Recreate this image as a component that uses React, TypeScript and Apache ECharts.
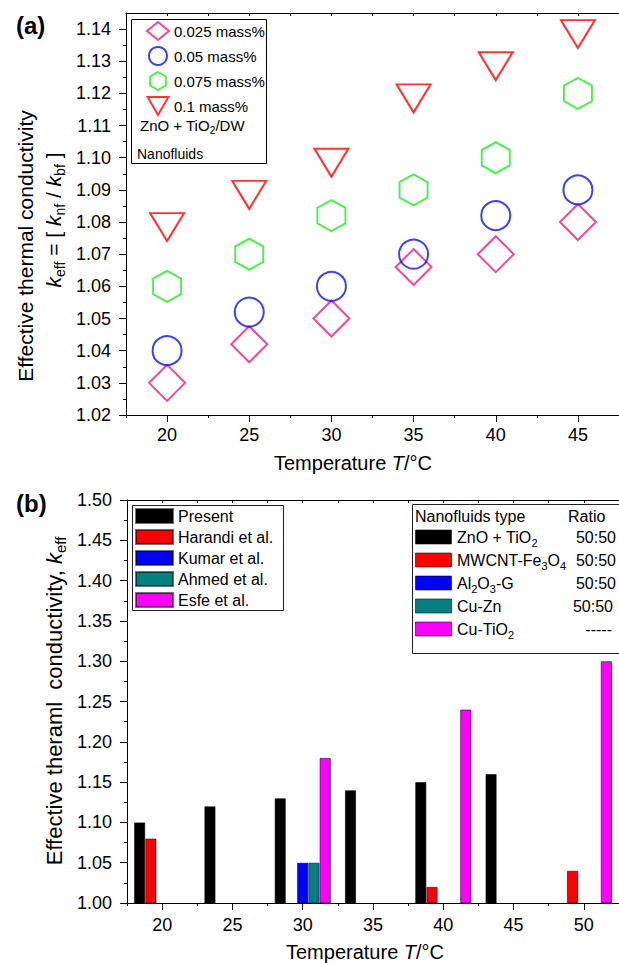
import React, { useEffect, useRef } from 'react';
import * as echarts from 'echarts';

// ---------- Data: panel (a) ----------
const tempsA = ['20', '25', '30', '35', '40', '45'];
const namesA = ['0.025 mass%', '0.05 mass%', '0.075 mass%', '0.1 mass%'];
const mass025 = [1.03, 1.042, 1.05, 1.066, 1.07, 1.08];
const mass050 = [1.04, 1.052, 1.06, 1.07, 1.082, 1.09];
const mass075 = [1.06, 1.07, 1.082, 1.09, 1.1, 1.12];
const mass100 = [1.08, 1.09, 1.1, 1.12, 1.13, 1.14];
const yTicksA = [1.02, 1.03, 1.04, 1.05, 1.06, 1.07, 1.08, 1.09, 1.1, 1.11, 1.12, 1.13, 1.14];
const yMinorA = [1.025, 1.035, 1.045, 1.055, 1.065, 1.075, 1.085, 1.095, 1.105, 1.115, 1.125, 1.135];

// ---------- Data: panel (b) ----------
const tempsB = ['20', '25', '30', '35', '40', '45', '50'];
const namesB = ['Present', 'Harandi et al.', 'Kumar et al.', 'Ahmed et al.', 'Esfe et al.'];
const present = [1.1, 1.12, 1.13, 1.14, 1.15, 1.16, null];
const harandi = [1.08, null, null, null, 1.02, null, 1.04];
const kumar = [null, null, 1.05, null, null, null, null];
const ahmed = [null, null, 1.05, null, null, null, null];
const esfe = [null, null, 1.18, null, 1.24, null, 1.3];
const typeLabels = ['{a|ZnO + TiO}{s|2}', '{a|MWCNT-Fe}{s|3}{a|O}{s|4}', '{a|Al}{s|2}{a|O}{s|3}{a|-G}', '{a|Cu-Zn}', '{a|Cu-TiO}{s|2}'];
const ratios = ['50:50', '50:50', '50:50', '50:50', '-----'];

const FONT = '"Liberation Sans", Arial, sans-serif';
const colorsA = ['#F0187F', '#1010F0', '#20E820', '#FF0000'];
const colorsB = ['#000000', '#FF0000', '#0000FF', '#008080', '#FF00FF'];

const HEX = 'path://M8.66,0 L17.32,5 L17.32,15 L8.66,20 L0,15 L0,5 Z';
const TRI = 'path://M0,0 L20,0 L10,17.32 Z';

function txt(x: number, y: number, text: string, size: number, opts: any = {}) {
  const align = opts.align || 'left';
  return {
    type: 'text',
    x,
    y,
    rotation: opts.rotation || 0,
    z: 100,
    style: {
      text,
      fill: '#000',
      font: `${opts.weight || 'normal'} ${size}px ${FONT}`,
      fontSize: size,
      fontFamily: FONT,
      fontWeight: opts.weight || 'normal',
      align,
      verticalAlign: 'middle',
      textAlign: align,
      textVerticalAlign: 'middle',
      rich: {
        a: { fontSize: size, fontFamily: FONT, fill: '#000', lineHeight: size + 6 },
        i: { fontSize: size, fontFamily: FONT, fontStyle: 'italic', fill: '#000', lineHeight: size + 6 },
        s: { fontSize: Math.round(size * 0.68), fontFamily: FONT, fill: '#000', verticalAlign: 'bottom', lineHeight: Math.round(size * 0.7) },
      },
    },
  };
}

function rectBox(x: number, y: number, w: number, h: number, fill = 'none', stroke = '#000') {
  return {
    type: 'rect',
    z: 50,
    shape: { x, y, width: w, height: h },
    style: { fill, stroke, lineWidth: 1 },
  };
}

function buildOption(): any {
  const axisLine = { show: true, lineStyle: { color: '#000', width: 1 } };
  const label = { color: '#000', fontSize: 18, fontFamily: FONT };

  const xAxis: any[] = [
    // panel (a)
    {
      type: 'category', gridIndex: 0, position: 'bottom', data: tempsA, boundaryGap: true,
      axisLine, axisTick: { show: true, alignWithLabel: true, length: 7, lineStyle: { color: '#000' } },
      axisLabel: { ...label, margin: 11 }, splitLine: { show: false },
    },
    {
      type: 'value', gridIndex: 0, position: 'bottom', min: 17.5, max: 47.5, interval: 5,
      axisLine: { show: false }, axisTick: { show: true, length: 3, lineStyle: { color: '#000' } },
      axisLabel: { show: false }, splitLine: { show: false },
    },
    {
      type: 'value', gridIndex: 0, position: 'top', min: 17.5, max: 47.5, interval: 2.5,
      axisLine, axisTick: { show: true, inside: true, length: 3, lineStyle: { color: '#000' } },
      axisLabel: { show: false }, splitLine: { show: false },
    },
    // panel (b)
    {
      type: 'category', gridIndex: 1, position: 'bottom', data: tempsB, boundaryGap: true,
      axisLine, axisTick: { show: true, alignWithLabel: true, length: 7, lineStyle: { color: '#000' } },
      axisLabel: { ...label, margin: 13 }, splitLine: { show: false },
    },
    {
      type: 'value', gridIndex: 1, position: 'bottom', min: 17.5, max: 52.5, interval: 5,
      axisLine: { show: false }, axisTick: { show: true, length: 3, lineStyle: { color: '#000' } },
      axisLabel: { show: false }, splitLine: { show: false },
    },
    {
      type: 'value', gridIndex: 1, position: 'top', min: 17.5, max: 52.5, interval: 2.5,
      axisLine, axisTick: { show: true, inside: true, length: 3, lineStyle: { color: '#000' } },
      axisLabel: { show: false }, splitLine: { show: false },
    },
  ];

  const yAxis: any[] = [
    {
      type: 'value', gridIndex: 0, position: 'left', min: 1.02, max: 1.145,
      axisLine, axisTick: { show: true, length: 7, customValues: yTicksA, lineStyle: { color: '#000' } },
      axisLabel: { ...label, margin: 15, customValues: yTicksA, formatter: (v: number) => v.toFixed(2) },
      splitLine: { show: false },
    },
    {
      type: 'value', gridIndex: 0, position: 'left', min: 1.02, max: 1.145,
      axisLine: { show: false }, axisTick: { show: true, length: 3, customValues: yMinorA, lineStyle: { color: '#000' } },
      axisLabel: { show: false, customValues: yMinorA }, splitLine: { show: false },
    },
    {
      type: 'value', gridIndex: 1, position: 'left', min: 1.0, max: 1.5, interval: 0.05,
      axisLine, axisTick: { show: true, length: 7, lineStyle: { color: '#000' } },
      minorTick: { show: true, splitNumber: 2, length: 3, lineStyle: { color: '#000' } },
      axisLabel: { ...label, margin: 15, formatter: (v: number) => v.toFixed(2) },
      splitLine: { show: false }, minorSplitLine: { show: false },
    },
  ];

  const scatterDefs = [
    { name: namesA[0], data: mass025, symbol: 'diamond', size: [36, 36], offset: [0, 0] },
    { name: namesA[1], data: mass050, symbol: 'circle', size: 29, offset: [0, 0] },
    { name: namesA[2], data: mass075, symbol: HEX, size: [28, 31], offset: [0, 0] },
    { name: namesA[3], data: mass100, symbol: TRI, size: [34, 28], offset: [0, 5] },
  ];
  const scatter = scatterDefs.map((d, i) => ({
    type: 'scatter', name: d.name, xAxisIndex: 0, yAxisIndex: 0, data: d.data,
    symbol: d.symbol, symbolSize: d.size, symbolOffset: d.offset,
    itemStyle: { color: 'transparent', borderColor: colorsA[i], borderWidth: 2 },
    emphasis: { disabled: true }, z: 5,
  }));

  const barData = [present, harandi, kumar, ahmed, esfe];
  const bars = barData.map((d, i) => ({
    type: 'bar', name: namesB[i], xAxisIndex: 3, yAxisIndex: 2, data: d,
    barWidth: '16%', barGap: '0%', clip: true,
    itemStyle: { color: colorsB[i], borderColor: 'rgba(0,0,0,0.55)', borderWidth: 1 },
    emphasis: { disabled: true },
  }));

  const rowsY = [537, 560, 583, 606, 629];
  const graphic: any[] = [
    txt(16, 25, '(a)', 24, { weight: 'bold' }),
    txt(16, 503, '(b)', 24, { weight: 'bold' }),
    // axis titles (a)
    txt(353, 463, '{a|Temperature }{i|T}{a|/°C}', 20, { align: 'center' }),
    txt(25, 246, '{a|Effective thermal conductivity}', 21, { align: 'center', rotation: Math.PI / 2 }),
    txt(53, 220, '{i|k}{s|eff}{a| = [ }{i|k}{s|nf}{a| / }{i|k}{s|bf}{a| ]}', 21, { align: 'center', rotation: Math.PI / 2 }),
    // axis titles (b)
    txt(365, 952, '{a|Temperature }{i|T}{a|/°C}', 20, { align: 'center' }),
    txt(54, 701, '{a|Effective theraml  conductivity, }{i|k}{s|eff}', 22, { align: 'center', rotation: Math.PI / 2 }),
    // legend (a) box and texts
    rectBox(131.5, 19.5, 135, 144),
    txt(140, 125, '{a|ZnO + TiO}{s|2}{a|/DW}', 15),
    txt(137, 154, 'Nanofluids', 14),
    // legend (b) left box
    rectBox(132.5, 505.5, 151, 105, 'none', '#222'),
    // legend (b) right box
    rectBox(412.5, 504.5, 240, 149, '#fff', '#222'),
    txt(415, 516, 'Nanofluids type', 16),
    txt(568, 516, 'Ratio', 16),
  ];
  rowsY.forEach((y, i) => {
    graphic.push({
      type: 'rect', z: 60, shape: { x: 415.5, y: y - 7, width: 36, height: 14 },
      style: { fill: colorsB[i], stroke: 'rgba(0,0,0,0.55)', lineWidth: 1 },
    });
    graphic.push(txt(457, y, typeLabels[i], 16));
    graphic.push(txt(i === 3 ? 613 : i === 4 ? 612 : 616, y, ratios[i], 16, { align: 'right' }));
  });

  return {
    animation: false,
    backgroundColor: '#fff',
    textStyle: { fontFamily: FONT, color: '#000' },
    grid: [
      { left: 126, top: 13, width: 501.3, height: 402, containLabel: false },
      { left: 127, top: 500, width: 503.7, height: 403, containLabel: false },
    ],
    xAxis,
    yAxis,
    legend: [
      {
        data: namesA, orient: 'vertical', left: 146, top: 21, itemWidth: 22, itemHeight: 18, itemGap: 5,
        selectedMode: false, textStyle: { fontSize: 15, color: '#000', fontFamily: FONT }, padding: 0,
      },
      {
        data: namesB, orient: 'vertical', left: 135, top: 508, itemWidth: 37, itemHeight: 14, itemGap: 5,
        icon: 'rect', selectedMode: false, textStyle: { fontSize: 16, color: '#000', fontFamily: FONT }, padding: 0,
      },
    ],
    series: [...scatter, ...bars],
    graphic,
  };
}

export default function App() {
  const ref = useRef<HTMLDivElement>(null);
  useEffect(() => {
    document.body.style.margin = '0';
    const chart = echarts.init(ref.current as HTMLDivElement, null, { renderer: 'svg' });
    chart.setOption(buildOption());
    return () => chart.dispose();
  }, []);
  return (
    <div
      ref={ref}
      style={{ position: 'fixed', left: 0, top: 0, width: 619, height: 963, overflow: 'hidden', background: '#fff' }}
    />
  );
}
